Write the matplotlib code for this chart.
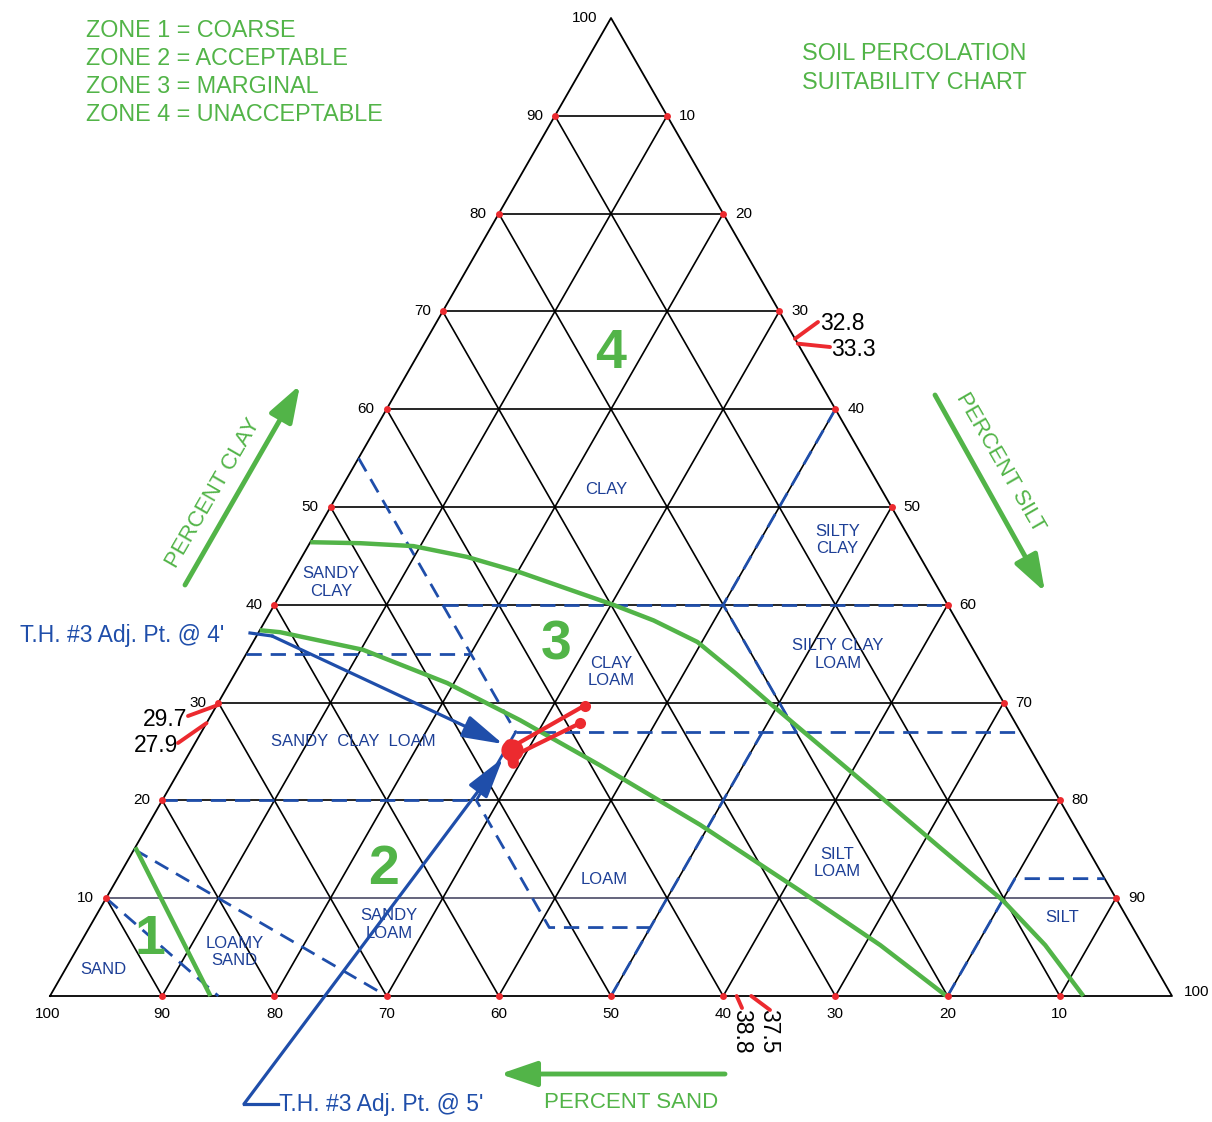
import numpy as np
import matplotlib
matplotlib.use("Agg")
import matplotlib.pyplot as plt

plt.rcParams['font.family'] = ['Liberation Sans', 'DejaVu Sans']

# ---------------- data ----------------
TICKS = [10, 20, 30, 40, 50, 60, 70, 80, 90]

# USDA texture class boundaries, vertices as (clay %, silt %)
B_SAND = [(10, 0), (0, 15)]
B_LOAMY_SAND = [(15, 0), (0, 30)]
B_SAND45 = [(55, 0), (27, 28), (20, 28), (7, 41), (7, 50)]
B_SILT50 = [(0, 50), (27, 50)]
B_CLAY20 = [(20, 0), (20, 28)]
B_CLAY35 = [(35, 0), (35, 20)]
B_CLAY40 = [(40, 15), (40, 60)]
B_CLAY27 = [(27, 28), (27, 73)]
B_SILT40 = [(60, 40), (40, 40), (27, 53)]
B_SILT80 = [(0, 80), (12, 80), (12, 88)]
BOUNDARIES = [B_SAND, B_LOAMY_SAND, B_SAND45, B_SILT50, B_CLAY20, B_CLAY35,
              B_CLAY40, B_CLAY27, B_SILT40, B_SILT80]

CLASS_NAMES = ["CLAY", "SILTY\nCLAY", "SANDY\nCLAY", "CLAY\nLOAM", "SILTY CLAY\nLOAM",
               "SANDY  CLAY  LOAM", "LOAM", "SILT\nLOAM", "SANDY\nLOAM", "LOAMY\nSAND",
               "SAND", "SILT"]
CLASS_CLAY = [51.8, 46.6, 42.3, 33.1, 34.9, 26.0, 11.9, 13.6, 7.3, 4.5, 2.7, 8.0]
CLASS_SILT = [23.7, 46.9, 3.9, 33.5, 52.8, 14.0, 43.4, 63.4, 26.6, 14.2, 3.4, 86.2]

# percolation zone boundaries (clay %, silt %)
ZONE34_CLAY = [46.4, 46.3, 46.0, 44.9, 43.3, 40.0, 38.4, 36.2, 33.0, 29.6, 22.1, 15.2, 9.8, 5.2, 0.0]
ZONE34_SILT = [0.0, 4.5, 9.4, 14.7, 20.3, 30.2, 34.6, 39.6, 44.6, 49.7, 61.2, 71.7, 80.0, 86.1, 92.1]
ZONE23_CLAY = [37.4, 37.2, 35.4, 32.0, 28.2, 23.6, 17.5, 10.8, 5.2, 0.0]
ZONE23_SILT = [0.0, 1.9, 10.2, 19.4, 27.8, 37.2, 49.2, 61.4, 71.4, 79.9]
ZONE12_CLAY = [15.2, 0.0]
ZONE12_SILT = [0.0, 14.3]

# test hole samples
SAMPLE_CLAY = [29.7, 27.9]
SAMPLE_SILT = [32.8, 33.3]
SAMPLE_SAND = [37.5, 38.8]
ADJ_CLAY = 25.2   # plotted adjusted point
ADJ_SILT = 28.6

LEGEND = ["ZONE 1 = COARSE", "ZONE 2 = ACCEPTABLE", "ZONE 3 = MARGINAL",
          "ZONE 4 = UNACCEPTABLE"]

# ---------------- styling ----------------
GREEN = '#52b448'
NAVY = '#1d3f96'
BLUE = '#1f4eaa'
RED = '#ec2a2f'

# ---------------- geometry ----------------
X0, Y0 = 50.0, 996.0      # pixel of the sand=100 vertex
SX, SY = 11.22, 9.78      # pixels per percent


def tern(clay, silt):
    clay = np.asarray(clay, float)
    silt = np.asarray(silt, float)
    return silt + clay / 2.0, clay


def pix(px, py):
    return (px - X0) / SX, (Y0 - py) / SY


fig = plt.figure(figsize=(12.12, 11.22), dpi=100)
ax = fig.add_axes([0, 0, 1, 1])
ax.set_xlim(pix(0, 0)[0], pix(1212, 0)[0])
ax.set_ylim(pix(0, 1122)[1], pix(0, 0)[1])
ax.axis('off')

# grid
for k in TICKS:
    col = '#4a4a66' if k == 10 else 'black'
    u, v = tern([k, k], [0, 100 - k])
    ax.plot(u, v, color=col, lw=1.2, zorder=2)
    u, v = tern([0, 100 - k], [k, k])
    ax.plot(u, v, color='black', lw=1.2, zorder=2)
    u, v = tern([0, 100 - k], [100 - k, 0])
    ax.plot(u, v, color='black', lw=1.2, zorder=2)
u, v = tern([0, 0, 100, 0], [0, 100, 0, 0])
ax.plot(u, v, color='black', lw=1.3, zorder=2)

# red tick markers + tick labels
tk = np.array(TICKS, float)
for arr_c, arr_s in [(tk, 0 * tk), (0 * tk, 100 - tk), (100 - tk, tk)]:
    u, v = tern(arr_c, arr_s)
    ax.plot(u, v, 'o', color=RED, ms=5, zorder=5, mec='none')

TFS = 11
for k in TICKS:
    ax.annotate(str(k), tern(k, 0), xytext=(-12, 0), textcoords='offset pixels',
                ha='right', va='center', fontsize=TFS)
    ax.annotate(str(k), tern(0, 100 - k), xytext=(0, -11), textcoords='offset pixels',
                ha='center', va='top', fontsize=TFS)
    ax.annotate(str(k), tern(100 - k, k), xytext=(12, 0), textcoords='offset pixels',
                ha='left', va='center', fontsize=TFS)
ax.annotate('100', tern(100, 0), xytext=(-14, 0), textcoords='offset pixels',
            ha='right', va='center', fontsize=TFS)
ax.annotate('100', tern(0, 0), xytext=(-2, -11), textcoords='offset pixels',
            ha='center', va='top', fontsize=TFS)
ax.annotate('100', tern(0, 100), xytext=(12, 4), textcoords='offset pixels',
            ha='left', va='center', fontsize=TFS)

# class boundaries
for poly in BOUNDARIES:
    c = [p[0] for p in poly]
    s = [p[1] for p in poly]
    u, v = tern(c, s)
    ax.plot(u, v, color=BLUE, lw=2.0, ls=(0, (5.5, 3.2)), zorder=3)

# class labels
for name, c, s in zip(CLASS_NAMES, CLASS_CLAY, CLASS_SILT):
    u, v = tern(c, s)
    ax.text(u, v, name, ha='center', va='center', color=NAVY, fontsize=12,
            linespacing=1.2, zorder=4)

# zone curves
for cc, ss in [(ZONE34_CLAY, ZONE34_SILT), (ZONE23_CLAY, ZONE23_SILT),
               (ZONE12_CLAY, ZONE12_SILT)]:
    u, v = tern(cc, ss)
    ax.plot(u, v, color=GREEN, lw=3.2, solid_capstyle='butt', solid_joinstyle='round',
            zorder=4)

# zone numbers
for txt, (px, py) in zip(['1', '2', '3', '4'],
                         [(150, 940), (384, 870), (556, 645), (611, 354)]):
    ax.text(*pix(px, py), txt, color=GREEN, fontsize=40, ha='center', va='center',
            fontweight='bold', zorder=6)

# legend + title
for i, line in enumerate(LEGEND):
    ax.text(*pix(86, 30 + 28 * i), line, color=GREEN, fontsize=16.8, ha='left',
            va='center')
ax.text(*pix(914, 53), "SOIL PERCOLATION", color=GREEN, fontsize=16.8, ha='center', va='center')
ax.text(*pix(914, 82), "SUITABILITY CHART", color=GREEN, fontsize=16.8, ha='center', va='center')

# axis-direction arrows
garrow = dict(arrowstyle='-|>,head_length=1.6,head_width=0.55', color=GREEN, lw=3.5,
              shrinkA=0, shrinkB=0, mutation_scale=14)
ax.annotate('', xy=pix(300, 385), xytext=pix(185, 585), arrowprops=garrow)
ax.annotate('', xy=pix(1045, 592), xytext=pix(935, 395), arrowprops=garrow)
ax.annotate('', xy=pix(500, 1074), xytext=pix(725, 1074), arrowprops=garrow)
ax.text(*pix(213, 493), "PERCENT CLAY", color=GREEN, fontsize=16, rotation=60,
        ha='center', va='center', rotation_mode='anchor')
ax.text(*pix(1000, 463), "PERCENT SILT", color=GREEN, fontsize=16, rotation=-60,
        ha='center', va='center', rotation_mode='anchor')
ax.text(*pix(631, 1103), "PERCENT SAND", color=GREEN, fontsize=16, ha='center', va='center')

# test hole annotations (blue)
adj_u, adj_v = tern(ADJ_CLAY, ADJ_SILT)
barrow = dict(arrowstyle='-|>,head_length=1.8,head_width=0.5', color=BLUE, lw=2.3,
              shrinkA=0, shrinkB=0, mutation_scale=14)
p1, p2 = pix(250, 633), pix(272, 636)
tip4 = pix(503, 744)
ax.plot([p1[0], p2[0]], [p1[1], p2[1]], color=BLUE, lw=2.3, zorder=6)
ax.annotate('', xy=tip4, xytext=p2, arrowprops=barrow, zorder=6)
q1, q2 = pix(278, 1104), pix(244, 1104)
tip5 = pix(503, 758)
ax.plot([q1[0], q2[0]], [q1[1], q2[1]], color=BLUE, lw=2.3, zorder=6)
ax.annotate('', xy=tip5, xytext=q2, arrowprops=barrow, zorder=6)
ax.text(*pix(20, 635), "T.H. #3 Adj. Pt. @ 4'", color=BLUE, fontsize=16.5,
        ha='left', va='center')
ax.text(*pix(279, 1104), "T.H. #3 Adj. Pt. @ 5'", color=BLUE, fontsize=16.5,
        ha='left', va='center')

# sample points (red)
su, sv = tern(SAMPLE_CLAY, SAMPLE_SILT)
for i, off in enumerate([(2, 4), (6, -4)]):
    start = (adj_u + off[0] / SX, adj_v + off[1] / SY)
    ax.plot([start[0], su[i]], [start[1], sv[i]], color=RED, lw=3, zorder=7,
            solid_capstyle='round')
ax.plot(su, sv, 'o', color=RED, ms=8, zorder=7, mec='none')
ax.plot([adj_u - 0.2, adj_u, adj_u + 0.1], [adj_v + 0.5, adj_v, adj_v - 1.4],
        color=RED, lw=8, solid_capstyle='round', zorder=7)
ax.plot([adj_u], [adj_v], 'o', color=RED, ms=16, zorder=7, mec='none')

# edge read-outs
edge_pts = [tern(SAMPLE_CLAY[0], 0), tern(SAMPLE_CLAY[1], 0),
            tern(100 - SAMPLE_SILT[0], SAMPLE_SILT[0]), tern(100 - SAMPLE_SILT[1], SAMPLE_SILT[1]),
            tern(0, 100 - SAMPLE_SAND[1]), tern(0, 100 - SAMPLE_SAND[0])]
label_anchor = [pix(188, 716), pix(178, 743), pix(818, 322), pix(830, 347),
                pix(742, 1008), pix(770, 1010)]
for (eu, ev), (au, av) in zip(edge_pts, label_anchor):
    ax.plot([au, eu], [av, ev], color=RED, lw=2.8, zorder=7, solid_capstyle='round')

ax.text(*pix(187, 719), f"{SAMPLE_CLAY[0]}", fontsize=16.5, ha='right', va='center')
ax.text(*pix(178, 745), f"{SAMPLE_CLAY[1]}", fontsize=16.5, ha='right', va='center')
ax.text(*pix(820, 323), f"{SAMPLE_SILT[0]}", fontsize=16.5, ha='left', va='center')
ax.text(*pix(831, 349), f"{SAMPLE_SILT[1]}", fontsize=16.5, ha='left', va='center')
ax.text(*pix(742, 1031), f"{SAMPLE_SAND[1]}", fontsize=16.5, ha='center', va='center',
        rotation=-90)
ax.text(*pix(769, 1031), f"{SAMPLE_SAND[0]}", fontsize=16.5, ha='center', va='center',
        rotation=-90)

fig.savefig('out.png', dpi=100, facecolor='white')
